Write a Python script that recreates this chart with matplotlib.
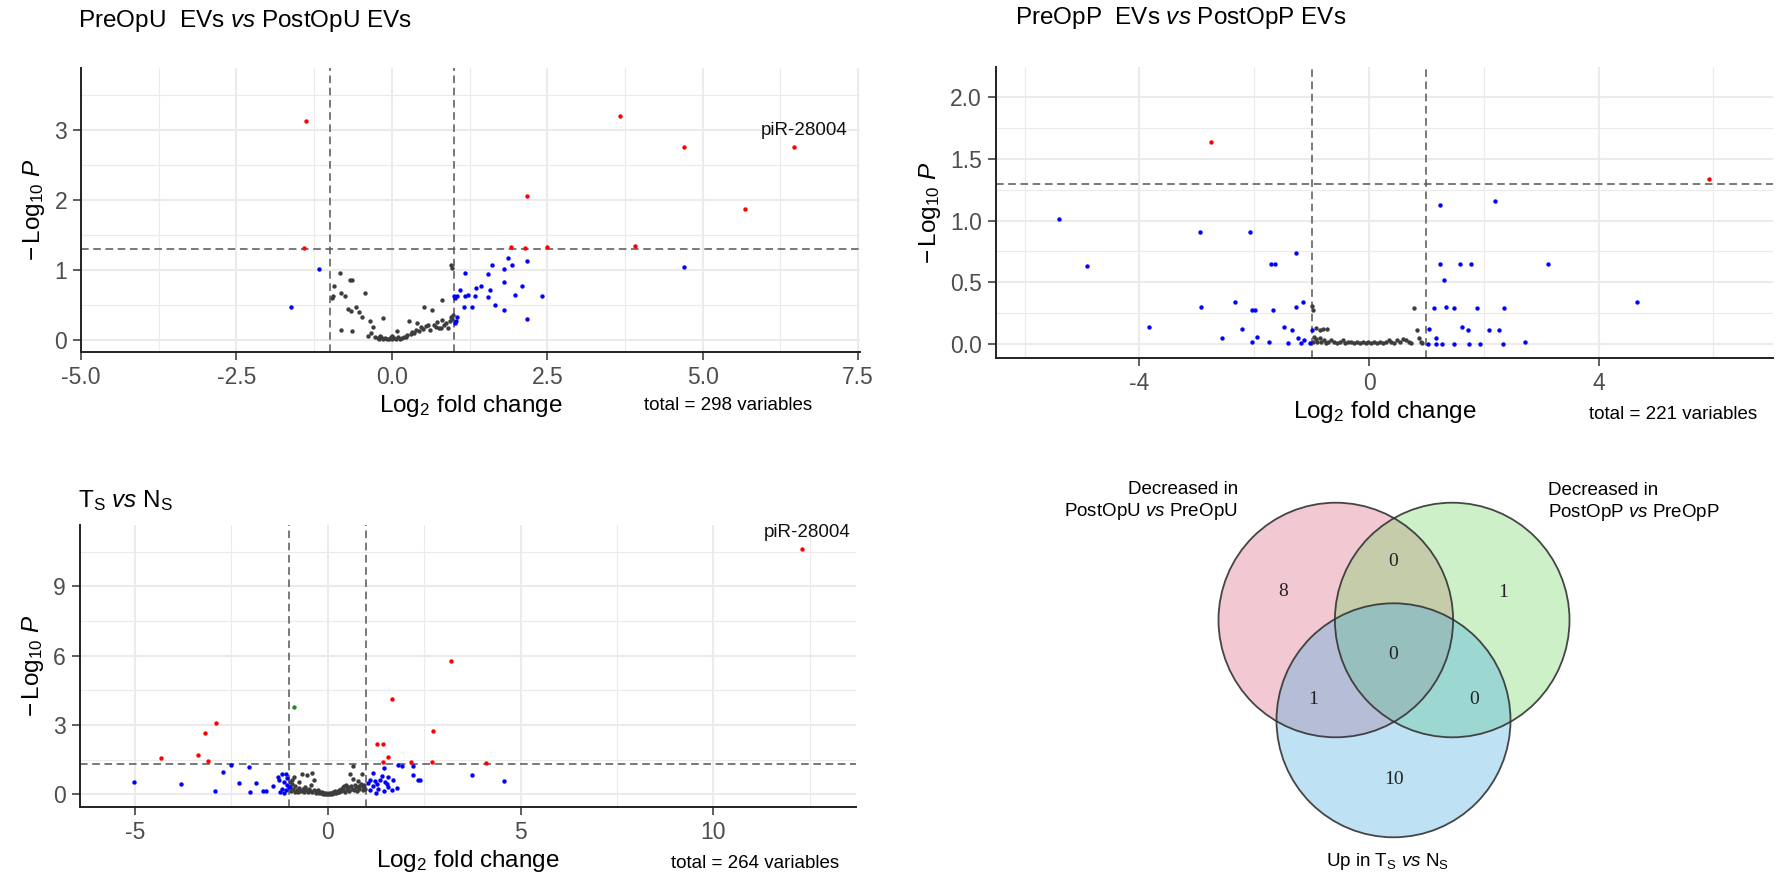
import matplotlib
matplotlib.use('Agg')
import matplotlib.pyplot as plt
from matplotlib.patches import Circle

plt.rcParams['font.family'] = ['Liberation Sans', 'DejaVu Sans']
plt.rcParams['mathtext.fontset'] = 'custom'
plt.rcParams['mathtext.rm'] = 'Liberation Sans'
plt.rcParams['mathtext.it'] = 'Liberation Sans:italic'
plt.rcParams['mathtext.bf'] = 'Liberation Sans:bold'
plt.rcParams['axes.unicode_minus'] = False

# ------------------------------------------------------------------ data
# Panel 1: PreOpU EVs vs PostOpU EVs  (log2FC, -log10 P)
pu_red = [(-1.38, 3.13), (-1.41, 1.31), (3.67, 3.20), (4.70, 2.76), (6.47, 2.76),
          (2.18, 2.06), (5.68, 1.87), (1.91, 1.33), (2.14, 1.31), (2.49, 1.33), (3.91, 1.34)]
pu_blue = [(-1.17, 1.01), (-1.62, 0.47), (4.70, 1.05), (1.87, 1.18), (1.93, 1.08), (2.18, 1.13),
           (1.61, 1.08), (1.81, 1.01), (1.17, 0.96), (1.54, 0.94), (1.81, 0.83), (2.09, 0.78),
           (1.35, 0.75), (1.43, 0.78), (1.10, 0.71), (1.58, 0.71), (1.98, 0.65), (2.41, 0.63),
           (1.00, 0.63), (1.04, 0.63), (1.02, 0.60), (1.18, 0.63), (1.23, 0.64), (1.34, 0.63),
           (1.54, 0.61), (1.16, 0.47), (1.29, 0.47), (1.66, 0.50), (1.81, 0.43), (1.03, 0.28),
           (1.04, 0.33), (2.18, 0.30), (1.02, 0.25)]
pu_grey = [(-0.84, 0.96), (-0.93, 0.78), (-0.95, 0.63), (-0.97, 0.60), (-0.68, 0.86), (-0.64, 0.86),
           (-0.82, 0.67), (-0.76, 0.63), (-0.43, 0.67), (-0.71, 0.44), (-0.66, 0.42), (-0.58, 0.47),
           (-0.53, 0.40), (-0.48, 0.33), (-0.82, 0.14), (-0.64, 0.13), (-0.35, 0.27), (-0.30, 0.19),
           (-0.15, 0.32), (-0.38, 0.06), (-0.34, 0.10), (-0.27, 0.04), (-0.23, 0.03), (-0.20, 0.01),
           (-0.17, 0.04), (-0.14, 0.02), (-0.11, 0.03), (-0.08, 0.01), (-0.05, 0.02), (-0.02, 0.04),
           (0.01, 0.01), (0.04, 0.03), (0.07, 0.02), (0.10, 0.04), (0.13, 0.01), (0.16, 0.03),
           (0.19, 0.05), (0.22, 0.04), (0.25, 0.07), (0.09, 0.13), (-0.19, 0.06), (0.00, 0.06),
           (0.27, 0.27), (0.30, 0.09), (0.33, 0.12), (0.36, 0.10), (0.39, 0.15), (0.41, 0.24),
           (0.44, 0.13), (0.47, 0.19), (0.50, 0.16), (0.52, 0.48), (0.55, 0.20), (0.58, 0.21),
           (0.61, 0.15), (0.65, 0.43), (0.68, 0.22), (0.71, 0.19), (0.73, 0.26), (0.76, 0.18),
           (0.79, 0.17), (0.80, 0.57), (0.81, 0.29), (0.84, 0.21), (0.87, 0.24), (0.90, 0.18),
           (0.93, 0.27), (0.95, 0.33), (0.96, 0.30), (0.95, 1.07), (0.96, 1.03), (0.98, 0.36)]
pu_xticks = [-5.0, -2.5, 0.0, 2.5, 5.0, 7.5]
pu_xticklabels = ['-5.0', '-2.5', '0.0', '2.5', '5.0', '7.5']
pu_yticks = [0, 1, 2, 3]
pu_yticklabels = ['0', '1', '2', '3']

# Panel 2: PreOpP EVs vs PostOpP EVs
pp_red = [(-2.75, 1.64), (5.92, 1.34)]
pp_blue = [(-5.40, 1.01), (-4.92, 0.63), (-3.83, 0.14), (-2.95, 0.91), (-2.93, 0.30), (-2.56, 0.05),
           (-2.33, 0.34), (-2.22, 0.12), (-2.08, 0.91), (-2.04, 0.28), (-1.98, 0.28), (-2.04, 0.02),
           (-1.95, 0.06), (-1.74, 0.02), (-1.70, 0.65), (-1.63, 0.65), (-1.67, 0.28), (-1.48, 0.14),
           (-1.35, 0.11), (-1.28, 0.74), (-1.28, 0.30), (-1.15, 0.34), (-1.24, 0.05), (-1.41, 0.01),
           (-1.18, 0.01), (-1.14, 0.03), (-1.03, 0.01), (-1.00, 0.11),
           (1.24, 1.13), (2.20, 1.16), (1.24, 0.65), (1.58, 0.65), (1.78, 0.65), (3.12, 0.65),
           (1.30, 0.52), (4.67, 0.34), (1.13, 0.29), (1.35, 0.30), (1.48, 0.29), (1.88, 0.29),
           (2.35, 0.29), (1.62, 0.14), (1.72, 0.11), (2.09, 0.11), (2.27, 0.11), (1.05, 0.12),
           (1.17, 0.05), (1.03, 0.00), (1.16, 0.00), (1.28, 0.00), (1.48, 0.00), (1.75, 0.00),
           (1.94, 0.00), (2.33, 0.00), (2.71, 0.02)]
pp_grey = [(-0.99, 0.31), (-0.98, 0.28), (-0.92, 0.13), (-0.81, 0.12), (-0.74, 0.12), (-0.86, 0.11),
           (-0.96, 0.06), (-0.97, 0.02), (-0.93, 0.04), (-0.90, 0.02), (-0.86, 0.05), (-0.83, 0.02),
           (-0.79, 0.03), (-0.75, 0.01), (-0.71, 0.02), (-0.66, 0.03), (-0.61, 0.02), (-0.56, 0.01),
           (-0.51, 0.02), (-0.46, 0.03), (-0.41, 0.01), (-0.36, 0.02), (-0.31, 0.02), (-0.26, 0.01),
           (-0.21, 0.02), (-0.16, 0.01), (-0.11, 0.02), (-0.06, 0.01), (-0.01, 0.02), (0.04, 0.01),
           (0.09, 0.02), (0.14, 0.01), (0.19, 0.02), (0.24, 0.01), (0.29, 0.02), (0.34, 0.03),
           (0.39, 0.02), (0.44, 0.01), (0.49, 0.03), (0.54, 0.02), (0.59, 0.04), (0.64, 0.03),
           (0.69, 0.02), (0.74, 0.01), (0.78, 0.29), (0.84, 0.11), (0.87, 0.05), (0.90, 0.02),
           (0.93, 0.01)]
pp_xticks = [-4, 0, 4]
pp_xticklabels = ['-4', '0', '4']
pp_yticks = [0.0, 0.5, 1.0, 1.5, 2.0]
pp_yticklabels = ['0.0', '0.5', '1.0', '1.5', '2.0']

# Panel 3: TS vs NS
ts_red = [(-4.33, 1.59), (-3.37, 1.70), (-3.19, 2.63), (-2.90, 3.10), (-3.10, 1.43),
          (1.27, 2.16), (1.42, 2.16), (1.57, 1.61), (1.44, 1.40), (1.66, 4.13), (2.16, 1.40),
          (2.72, 2.74), (2.70, 1.40), (3.20, 5.76), (4.11, 1.37), (12.30, 10.61)]
ts_green = [(-0.87, 3.77)]
ts_blue = [(-5.02, 0.53), (-3.81, 0.46), (-2.92, 0.13), (-2.72, 0.97), (-2.51, 1.26), (-2.30, 0.48),
           (-2.04, 1.18), (-2.03, 0.09), (-1.87, 0.49), (-1.67, 0.14), (-1.60, 0.13), (-1.43, 0.35),
           (-1.30, 0.75), (-1.19, 0.89), (-1.08, 0.87), (-1.28, 0.63), (-1.15, 0.53), (-1.19, 0.24),
           (-1.08, 0.17), (-1.24, 0.10), (-1.13, 0.06), (-1.06, 0.39), (-1.02, 0.30), (-1.05, 0.70),
           (1.18, 0.92), (1.10, 0.63), (1.23, 0.58), (1.36, 0.63), (1.49, 0.53), (1.40, 0.78),
           (1.46, 1.15), (1.57, 0.75), (1.53, 0.46), (1.27, 0.46), (1.18, 0.35), (1.31, 0.24),
           (1.57, 0.32), (1.66, 0.17), (1.46, 0.14), (1.25, 0.06), (1.70, 0.63), (1.79, 0.27),
           (1.83, 1.26), (1.92, 1.21), (2.20, 1.23), (2.22, 0.82), (2.33, 0.60), (2.40, 0.60),
           (3.73, 0.85), (4.56, 0.56), (1.05, 0.50), (1.08, 0.20)]
ts_grey = [(-0.98, 0.30), (-0.95, 0.15), (-0.93, 0.45), (-0.90, 0.25), (-0.89, 0.75), (-0.86, 0.10),
           (-0.84, 0.35), (-0.80, 0.20), (-0.78, 0.12), (-0.76, 0.53), (-0.74, 0.28), (-0.70, 0.15),
           (-0.67, 0.89), (-0.65, 0.22), (-0.62, 0.10), (-0.60, 0.32), (-0.57, 0.18), (-0.54, 0.82),
           (-0.52, 0.08), (-0.50, 0.25), (-0.47, 0.14), (-0.45, 0.40), (-0.42, 0.92), (-0.40, 0.10),
           (-0.37, 0.61), (-0.35, 0.20), (-0.32, 0.06), (-0.30, 0.15), (-0.27, 0.09), (-0.25, 0.18),
           (-0.22, 0.05), (-0.20, 0.12), (-0.17, 0.04), (-0.15, 0.08), (-0.12, 0.02), (-0.10, 0.06),
           (-0.07, 0.01), (-0.05, 0.04), (-0.02, 0.00), (0.00, 0.02), (0.03, 0.05), (0.05, 0.01),
           (0.08, 0.07), (0.10, 0.03), (0.13, 0.10), (0.15, 0.05), (0.18, 0.14), (0.20, 0.06),
           (0.23, 0.12), (0.25, 0.09), (0.28, 0.20), (0.30, 0.10), (0.33, 0.25), (0.35, 0.14),
           (0.38, 0.30), (0.40, 0.18), (0.43, 0.35), (0.45, 0.12), (0.48, 0.40), (0.50, 0.22),
           (0.53, 0.30), (0.55, 0.16), (0.58, 0.89), (0.60, 0.35), (0.62, 0.25), (0.65, 1.21),
           (0.66, 0.68), (0.68, 0.20), (0.70, 0.40), (0.72, 0.30), (0.75, 0.15), (0.77, 0.58),
           (0.80, 0.35), (0.82, 0.22), (0.85, 0.45), (0.88, 0.89), (0.90, 0.30), (0.92, 0.18),
           (0.95, 0.40), (0.97, 0.25), (-0.97, 0.55), (-0.92, 0.62)]
ts_xticks = [-5, 0, 5, 10]
ts_xticklabels = ['-5', '0', '5', '10']
ts_yticks = [0, 3, 6, 9]
ts_yticklabels = ['0', '3', '6', '9']

label_gene = 'piR-28004'
totals = [298, 221, 264]

# Venn counts
venn_counts = [8, 0, 1, 0, 1, 0, 10]   # A, AB, B, ABC, AC, BC, C
venn_sets = ['Decreased in\nPostOpU $\\mathit{vs}$ PreOpU',
             'Decreased in\nPostOpP $\\mathit{vs}$ PreOpP',
             'Up in T$_\\mathregular{S}$ $\\mathit{vs}$ N$_\\mathregular{S}$']

# ------------------------------------------------------------------ figure
W, H = 1778, 877
fig = plt.figure(figsize=(W / 100, H / 100), dpi=100)

GREY = '#3d3d3d'
TICKC = '#4D4D4D'
GRID = '#EBEBEB'


def px_axes(l, t, r, b):
    return fig.add_axes([l / W, 1 - b / H, (r - l) / W, (b - t) / H])


def ftext(x, y, s, **kw):
    return fig.text(x / W, 1 - y / H, s, **kw)


def volcano(rect, grey, blue, red, green, xlim, ylim, xt, xtl, yt, ytl, ylab_pad):
    ax = px_axes(*rect)
    ax.set_xticks(xt)
    ax.set_xticklabels(xtl)
    ax.set_yticks(yt)
    ax.set_yticklabels(ytl)
    dx = xt[1] - xt[0]
    xm = [xt[0] - dx / 2] + [v + dx / 2 for v in xt]
    xm = [v for v in xm if xlim[0] <= v <= xlim[1]]
    dy = yt[1] - yt[0]
    ym = [v + dy / 2 for v in yt]
    ym = [v for v in ym if ylim[0] <= v <= ylim[1]]
    ax.set_xticks(xm, minor=True)
    ax.set_yticks(ym, minor=True)
    ax.set_xlim(xlim)
    ax.set_ylim(ylim)
    ax.grid(which='major', color=GRID, lw=1.5)
    ax.grid(which='minor', color=GRID, lw=0.8)
    ax.set_axisbelow(True)
    ax.tick_params(which='minor', length=0)
    ax.tick_params(which='major', length=5.5, width=1.1, color='#333333',
                   labelsize=16.5, labelcolor=TICKC, pad=4.5)
    for s in ['top', 'right']:
        ax.spines[s].set_visible(False)
    for s in ['left', 'bottom']:
        ax.spines[s].set_color('#222222')
        ax.spines[s].set_linewidth(1.4)
    for v in (-1, 1):
        ax.axvline(v, color='#555555', lw=1.1, dashes=(5, 3), zorder=2)
    ax.axhline(1.3, color='#555555', lw=1.1, dashes=(5, 3), zorder=2)
    for pts, col in ((grey, GREY), (blue, '#0000FF'), (red, '#FF0000'), (green, '#228B22')):
        if pts:
            xs, ys = zip(*pts)
            ax.scatter(xs, ys, s=10, c=col, linewidths=0, zorder=3)
    ax.set_xlabel('Log$_{2}$ fold change', fontsize=17.5, labelpad=3)
    ax.set_ylabel('$-\\,$Log$_{10}$ $\\mathit{P}$', fontsize=17.5, labelpad=ylab_pad)
    return ax


ax1 = volcano((81, 68, 860, 352), pu_grey, pu_blue, pu_red, [], (-5.0, 7.53), (-0.17, 3.89),
              pu_xticks, pu_xticklabels, pu_yticks, pu_yticklabels, 5)
ax2 = volcano((996, 67, 1773, 358), pp_grey, pp_blue, pp_red, [], (-6.50, 7.04), (-0.113, 2.245),
              pp_xticks, pp_xticklabels, pp_yticks, pp_yticklabels, 5)
ax3 = volcano((80, 525, 856, 807), ts_grey, ts_blue, ts_red, ts_green, (-6.43, 13.70), (-0.55, 11.65),
              ts_xticks, ts_xticklabels, ts_yticks, ts_yticklabels, 5)

ax1.annotate(label_gene, xy=pu_red[4], xytext=(7.6, 12), textcoords='offset points',
             ha='center', va='center', fontsize=13.5, color='#111111')
ax3.annotate(label_gene, xy=ts_red[-1], xytext=(3.8, 11.7), textcoords='offset points',
             ha='center', va='center', fontsize=13.5, color='#111111')

# titles
ftext(78, 27, 'PreOpU  EVs $\\mathit{vs}$ PostOpU EVs', fontsize=17.5, va='baseline')
ftext(1015, 24, 'PreOpP  EVs $\\mathit{vs}$ PostOpP EVs', fontsize=17.5, va='baseline')
ftext(78, 507, 'T$_\\mathregular{S}$ $\\mathit{vs}$ N$_\\mathregular{S}$', fontsize=17.5, va='baseline')

# captions
ftext(812, 406, 'total = %d variables' % totals[0], fontsize=13.5, ha='right', va='center')
ftext(1757, 415, 'total = %d variables' % totals[1], fontsize=13.5, ha='right', va='center')
ftext(839, 863, 'total = %d variables' % totals[2], fontsize=13.5, ha='right', va='center')

# ------------------------------------------------------------------ Venn
vax = fig.add_axes([0, 0, 1, 1], zorder=-1)
vax.set_xlim(0, W)
vax.set_ylim(H, 0)
vax.axis('off')
vax.patch.set_visible(False)

circles = [((1335.8, 620.0), 117.3, '#DA627E'),
           ((1452.2, 620.0), 117.3, '#70D462'),
           ((1393.5, 720.3), 117.0, '#45A9E2')]
for (c, r, col) in circles:
    vax.add_patch(Circle(c, r, facecolor=col, edgecolor='none', alpha=0.35))
for (c, r, col) in circles:
    vax.add_patch(Circle(c, r, facecolor='none', edgecolor='#333333', lw=1.3, alpha=0.9))

count_pos = [(1283.3, 591.7), (1393.3, 561.7), (1502.7, 592.7), (1393.3, 654.3),
             (1312.7, 700.0), (1474.3, 700.0), (1394.3, 779.3)]
for (x, y), n in zip(count_pos, venn_counts):
    vax.text(x, y, str(n), ha='center', va='center', fontsize=14,
             family='Liberation Serif', color='#222222')

vax.text(1238, 502, venn_sets[0], ha='right', va='center', fontsize=13.5, linespacing=1.2)
vax.text(1548, 502.5, venn_sets[1], ha='left', va='center', fontsize=13.5, linespacing=1.2)
vax.text(1387.5, 862, venn_sets[2], ha='center', va='center', fontsize=13.5)

fig.savefig('out.png', dpi=100)
